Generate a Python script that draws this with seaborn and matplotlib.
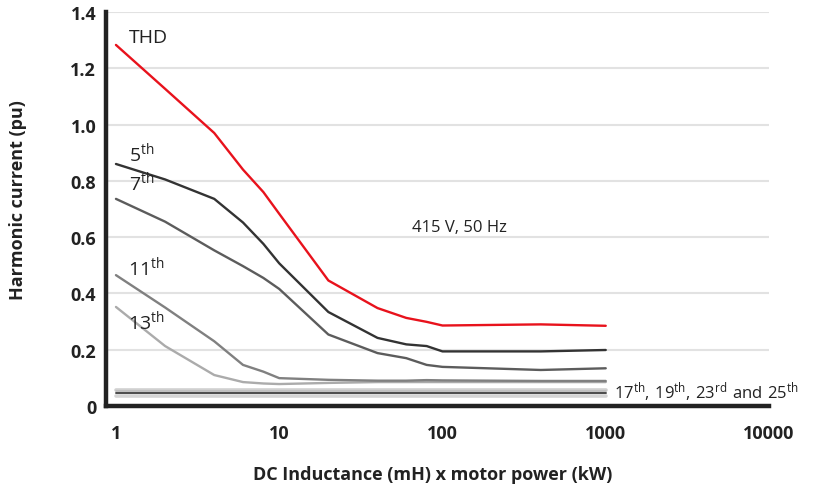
import matplotlib
matplotlib.use("Agg")
import matplotlib.pyplot as plt
from matplotlib.ticker import NullLocator
import seaborn as sns

# DC inductance (mH) x motor power (kW)
inductance = [1, 2, 4, 6, 8, 10, 20, 40, 60, 80, 100, 400, 1000]

# harmonic currents (pu)
thd = [1.283, 1.127, 0.970, 0.840, 0.760, 0.683, 0.446, 0.348, 0.313, 0.299, 0.286, 0.290, 0.285]
h5 = [0.860, 0.805, 0.736, 0.652, 0.576, 0.507, 0.334, 0.242, 0.219, 0.213, 0.194, 0.194, 0.199]
h7 = [0.736, 0.655, 0.553, 0.497, 0.455, 0.416, 0.254, 0.188, 0.170, 0.146, 0.139, 0.128, 0.134]
h11 = [0.465, 0.350, 0.230, 0.146, 0.122, 0.099, 0.093, 0.090, 0.090, 0.092, 0.091, 0.089, 0.089]
h13 = [0.352, 0.213, 0.110, 0.085, 0.080, 0.078, 0.082, 0.085, 0.085, 0.085, 0.085, 0.085, 0.085]
h17 = [0.057, 0.057, 0.057, 0.057, 0.057, 0.057, 0.057, 0.057, 0.057, 0.057, 0.057, 0.057, 0.057]
h19 = [0.054, 0.054, 0.054, 0.054, 0.054, 0.054, 0.054, 0.054, 0.054, 0.054, 0.054, 0.054, 0.054]
h23 = [0.047, 0.047, 0.047, 0.047, 0.047, 0.047, 0.047, 0.047, 0.047, 0.047, 0.047, 0.047, 0.047]
h25 = [0.037, 0.037, 0.037, 0.037, 0.037, 0.037, 0.037, 0.037, 0.037, 0.037, 0.037, 0.037, 0.037]

x_ticks = [1, 10, 100, 1000, 10000]
x_labels = ["1", "10", "100", "1000", "10000"]
y_ticks = [0, 0.2, 0.4, 0.6, 0.8, 1.0, 1.2, 1.4]
y_labels = ["0", "0.2", "0.4", "0.6", "0.8", "1.0", "1.2", "1.4"]

sns.set_style("white")
plt.rcParams["font.family"] = ["Open Sans", "DejaVu Sans"]
plt.rcParams["mathtext.fontset"] = "custom"
plt.rcParams["mathtext.rm"] = "Open Sans"

dark = "#222222"

fig = plt.figure(figsize=(8.19, 4.85), dpi=100)
ax = fig.add_axes([106 / 819, 78 / 485, 663 / 819, 394 / 485])

series = [
    (h25, "#d4d4d4", 2.6),
    (h17, "#d0d0d0", 2.6),
    (h19, "#bcbcbc", 1.2),
    (h23, "#4a4a4a", 1.4),
    (h13, "#ababab", 1.7),
    (h11, "#808080", 1.7),
    (h7, "#5c5c5c", 1.7),
    (h5, "#333333", 1.7),
    (thd, "#e8121c", 1.7),
]
for vals, col, lw in series:
    sns.lineplot(x=inductance, y=vals, color=col, linewidth=lw, ax=ax)

ax.set_xscale("log")
ax.set_xlim(0.869, 10000)
ax.set_ylim(0, 1.4)
ax.set_xticks(x_ticks)
ax.set_xticklabels(x_labels)
ax.xaxis.set_minor_locator(NullLocator())
ax.set_yticks(y_ticks)
ax.set_yticklabels(y_labels)

ax.yaxis.grid(True, color="#e2e2e2", linewidth=1.5)
ax.xaxis.grid(False)
ax.set_axisbelow(True)

for s in ["top", "right"]:
    ax.spines[s].set_visible(False)
for s in ["left", "bottom"]:
    ax.spines[s].set_linewidth(3.2)
    ax.spines[s].set_color(dark)

ax.tick_params(axis="both", length=0, labelsize=13, labelcolor=dark)
ax.tick_params(axis="y", pad=7)
ax.tick_params(axis="x", pad=13)
for lab in ax.get_xticklabels() + ax.get_yticklabels():
    lab.set_fontweight("bold")

ax.set_xlabel("DC Inductance (mH) x motor power (kW)", fontsize=13,
              fontweight="bold", color=dark)
ax.xaxis.set_label_coords((433 - 106) / 663, (407 - 466) / 394)
ax.set_ylabel("Harmonic current (pu)", fontsize=13, fontweight="bold",
              color=dark, va="center")
ax.yaxis.set_label_coords((18 - 106) / 663, (407 - 200) / 394)

txt = dict(fontsize=14, color=dark, va="baseline")
ax.text(1.2, 1.295, "THD", **txt)
ax.text(1.2, 0.872, r"$\mathregular{5^{th}}$", **txt)
ax.text(1.2, 0.767, r"$\mathregular{7^{th}}$", **txt)
ax.text(1.18, 0.466, r"$\mathregular{11^{th}}$", **txt)
ax.text(1.18, 0.275, r"$\mathregular{13^{th}}$", **txt)
ax.text(65, 0.621, "415 V, 50 Hz", fontsize=12, color=dark, va="baseline")
ax.text(1122, 0.0295,
        r"$\mathregular{17^{th}{,}\ 19^{th}{,}\ 23^{rd}\ and\ 25^{th}}$",
        fontsize=12, color=dark, va="baseline", clip_on=False)

fig.savefig("out.png", dpi=100)
